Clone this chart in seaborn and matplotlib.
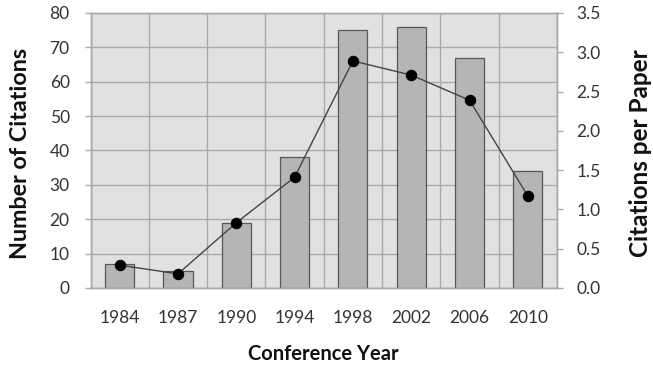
import matplotlib
matplotlib.use("Agg")
import matplotlib.pyplot as plt
import seaborn as sns
import pandas as pd
import numpy as np

years = ["1984", "1987", "1990", "1994", "1998", "2002", "2006", "2010"]
citations = [7, 5, 19, 38, 75, 76, 67, 34]
per_paper = [0.29, 0.18, 0.83, 1.41, 2.89, 2.71, 2.39, 1.17]

df = pd.DataFrame({"year": years, "citations": citations, "per_paper": per_paper})

sns.set_theme(style="white")
plt.rcParams["font.family"] = ["Lato", "DejaVu Sans"]

fig = plt.figure(figsize=(6.53, 3.67), dpi=100)
ax = fig.add_axes([0.1386, 0.2153, 0.7144, 0.7493])

grid_c = "#a9a9a9"
tick_c = "#333333"
ax.set_facecolor("#e1e1e1")
sns.barplot(data=df, x="year", y="citations", ax=ax, color="#b5b5b5",
            saturation=1, width=0.5, edgecolor="#575757", linewidth=0.9, zorder=2)

ax.set_ylim(0, 80)
ax.set_xlim(-0.5, len(years) - 0.5)
ax.set_yticks(np.arange(0, 81, 10))
ax.set_xticks(np.arange(-0.5, len(years), 1.0), minor=True)
ax.grid(axis="y", which="major", color=grid_c, linewidth=1.0, zorder=0)
ax.grid(axis="x", which="minor", color=grid_c, linewidth=1.0, zorder=0)
ax.set_axisbelow(True)
ax.tick_params(axis="x", which="major", length=0, pad=16, labelsize=12.5, labelcolor=tick_c)
ax.tick_params(axis="x", which="minor", length=4, color=grid_c, width=1.0)
ax.tick_params(axis="y", length=4, color=grid_c, width=1.0, pad=11, labelsize=12.5,
               labelcolor=tick_c, left=True)
for s in ax.spines.values():
    s.set_color(grid_c)
    s.set_linewidth(1.0)
ax.set_xlabel("Conference Year", fontsize=14.5, fontweight="bold", color="#111111")
ax.set_ylabel("Number of Citations", fontsize=16.8, fontweight="bold", color="#111111",
              va="center")
ax.xaxis.set_label_coords(0.5, -0.205)
ax.yaxis.set_label_coords(-0.151, 0.49)

ax2 = ax.twinx()
sns.lineplot(data=df, x="year", y="per_paper", ax=ax2, color="#444444", linewidth=1.0,
             marker="o", markersize=7.5, markerfacecolor="black", markeredgecolor="black",
             zorder=3)
ax2.set_ylim(0, 3.5)
ax2.set_yticks(np.arange(0, 3.51, 0.5))
ax2.set_yticklabels([f"{v:.1f}" for v in np.arange(0, 3.51, 0.5)])
ax2.tick_params(axis="y", length=4, color=grid_c, width=1.0, pad=10, labelsize=12.5,
                labelcolor=tick_c, right=True)
for s in ax2.spines.values():
    s.set_color(grid_c)
    s.set_linewidth(1.0)
ax2.set_ylabel("Citations per Paper", fontsize=17.5, fontweight="bold", color="#111111")
ax2.yaxis.label.set_va("center")
ax2.yaxis.set_label_coords(1.178, 0.49)
ax2.set_xlabel("")

fig.savefig("out.png", dpi=100)
